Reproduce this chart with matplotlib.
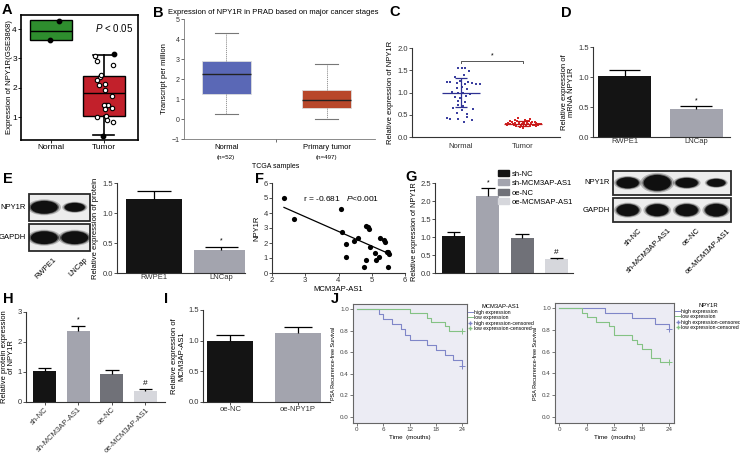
import numpy as np
import matplotlib
matplotlib.use("Agg")
import matplotlib.pyplot as plt
from matplotlib.patches import Rectangle, Ellipse
from matplotlib.lines import Line2D

plt.rcParams['font.family'] = ['Liberation Sans', 'DejaVu Sans']
plt.rcParams['mathtext.fontset'] = 'custom'
plt.rcParams['mathtext.it'] = 'Liberation Sans:italic'
plt.rcParams['mathtext.rm'] = 'Liberation Sans'

#Data
# A
a_groups = ["Normal", "Tumor"]
a_normal_dx = [0.15, -0.03]
a_normal_y = [4.27, 3.64]
a_tumor_dx = [-0.17, -0.14, 0.165, -0.08, -0.06, -0.14, -0.10, 0.02, 0.03, 0.15,
              0.04, 0.08, 0.00, 0.15, 0.02, -0.13, 0.04, 0.05, 0.18]
a_tumor_y = [3.08, 2.91, 2.76, 2.37, 2.42, 2.26, 2.10, 2.14, 1.94, 1.71,
             1.42, 1.40, 1.40, 1.31, 1.26, 1.02, 1.05, 0.91, 0.85]
a_tumor_fill_dx = [0.20, -0.01]
a_tumor_fill_y = [3.14, 0.37]
a_box = [dict(q1=3.62, med=3.95, q3=4.30, whislo=3.62, whishi=4.30),
         dict(q1=1.05, med=1.83, q3=2.40, whislo=0.40, whishi=3.10)]

# B
b_groups = ["Normal", "Primary tumor"]
b_n = ["(n=52)", "(n=497)"]
b_box = [dict(q1=1.25, med=2.25, q3=2.90, whislo=0.25, whishi=4.30),
         dict(q1=0.55, med=0.95, q3=1.45, whislo=0.00, whishi=2.75)]

# C
c_groups = ["Normal", "Tumor"]
c_normal_dx = [-0.05, 0.02, 0.07, 0.13, -0.22, -0.17, -0.06, -0.01, 0.06, 0.12, 0.18, 0.24, 0.31,
               -0.07, 0.01, 0.10, -0.14, -0.04, 0.04, 0.15, -0.09, -0.01, 0.09, -0.04, 0.07,
               -0.05, 0.03, 0.02, -0.07, 0.10, -0.23, -0.17, -0.04, 0.10, 0.18, 0.05,
               -0.10, 0.05, 0.20, -0.12]
c_normal_y = [1.54, 1.55, 1.54, 1.48, 1.24, 1.24, 1.22, 1.26, 1.20, 1.23, 1.22, 1.20, 1.19,
              1.10, 1.12, 1.08, 1.02, 0.98, 1.00, 0.97, 0.90, 0.88, 0.92, 0.80, 0.78,
              0.72, 0.70, 0.60, 0.55, 0.52, 0.42, 0.41, 0.40, 0.44, 0.39, 0.33,
              1.35, 1.40, 0.62, 0.65]
c_tumor_dx = [-0.27, -0.24, -0.21, -0.18, -0.15, -0.12, -0.09, -0.06, -0.03, 0.00,
              0.03, 0.06, 0.09, 0.12, 0.15, 0.18, 0.21, 0.24, 0.27, 0.29,
              -0.25, -0.20, -0.16, -0.11, -0.07, -0.02, 0.02, 0.07, 0.11, 0.16,
              0.20, 0.25, -0.13, -0.04, 0.05, 0.13, 0.22, -0.08, 0.10, 0.00]
c_tumor_y = [0.30, 0.31, 0.29, 0.33, 0.28, 0.32, 0.36, 0.30, 0.27, 0.34,
             0.38, 0.31, 0.29, 0.40, 0.33, 0.28, 0.32, 0.27, 0.30, 0.29,
             0.26, 0.35, 0.30, 0.25, 0.33, 0.29, 0.31, 0.36, 0.24, 0.27,
             0.34, 0.29, 0.38, 0.22, 0.26, 0.31, 0.25, 0.42, 0.35, 0.20]
c_mean = [1.00, 0.30]
c_sd = [0.33, 0.05]

# D
d_groups = ["RWPE1", "LNCap"]
d_vals = [1.01, 0.46]
d_err = [0.11, 0.05]

# E
e_groups = ["RWPE1", "LNCap"]
e_vals = [1.23, 0.39]
e_err = [0.13, 0.05]
e_blot_rows = ["NPY1R", "GAPDH"]
e_band_w = [[0.88, 0.66], [0.88, 0.88]]
e_band_h = [[0.42, 0.29], [0.42, 0.42]]

# F
f_x = [2.36, 2.66, 4.07, 4.11, 4.24, 4.24, 4.46, 4.59, 4.84, 4.89, 4.92, 4.96, 4.76,
       4.84, 5.09, 5.12, 5.23, 5.25, 5.37, 5.40, 5.45, 5.50, 5.53, 5.49]
f_y = [4.97, 3.60, 4.24, 2.76, 1.92, 1.04, 2.16, 2.34, 3.11, 3.05, 2.91, 1.72, 0.42,
       0.86, 1.32, 0.88, 1.06, 2.36, 2.23, 2.10, 1.43, 1.39, 1.28, 0.40]

# G
g_groups = ["sh-NC", "sh-MCM3AP-AS1", "oe-NC", "oe-MCMSAP-AS1"]
g_vals = [1.03, 2.14, 0.97, 0.39]
g_err = [0.11, 0.22, 0.11, 0.04]
g_marks = ["", "*", "", "#"]
g_blot_lanes = ["sh-NC", "sh-MCM3AP-AS1", "oe-NC", "oe-MCM3AP-AS1"]
g_blot_rows = ["NPY1R", "GAPDH"]
g_band_w = [[0.75, 0.92, 0.75, 0.62], [0.75, 0.75, 0.75, 0.75]]
g_band_h = [[0.40, 0.58, 0.36, 0.29], [0.44, 0.44, 0.44, 0.46]]

# H
h_groups = ["sh-NC", "sh-MCM3AP-AS1", "oe-NC", "oe-MCM3AP-AS1"]
h_vals = [1.02, 2.37, 0.95, 0.37]
h_err = [0.11, 0.18, 0.11, 0.06]
h_marks = ["", "*", "", "#"]

# I
i_groups = ["oe-NC", "oe-NPY1P"]
i_vals = [0.99, 1.12]
i_err = [0.10, 0.10]

# J
j1_high_t = [5, 6, 8, 10, 11, 12, 16, 18, 20, 22, 24]
j1_high_s = [0.952, 0.905, 0.857, 0.810, 0.762, 0.714, 0.667, 0.619, 0.571, 0.524, 0.476]
j1_low_t = [12, 16, 17, 20, 21]
j1_low_s = [0.96, 0.92, 0.88, 0.84, 0.80]
j2_high_t = [10, 16, 21, 24]
j2_high_s = [0.952, 0.905, 0.857, 0.810]
j2_low_t = [5, 6, 8, 11, 12, 16, 17, 18, 20, 22]
j2_low_s = [0.958, 0.917, 0.875, 0.833, 0.750, 0.708, 0.667, 0.625, 0.542, 0.500]
j_legend = ["high expression", "low expression", "high expression-censored", "low expression-censored"]

BLACK = "#141414"
GRAY = "#a3a4ae"
DGRAY = "#707178"
LGRAY = "#d6d7dc"

W, H = 740, 455
fig = plt.figure(figsize=(W / 100, H / 100), dpi=100)


def px_axes(x0, y0, x1, y1):
    return fig.add_axes([x0 / W, 1 - y1 / H, (x1 - x0) / W, (y1 - y0) / H])


def prism(ax):
    for s in ["top", "right"]:
        ax.spines[s].set_visible(False)
    for s in ["left", "bottom"]:
        ax.spines[s].set_linewidth(0.8)
        ax.spines[s].set_color("#333333")
    ax.tick_params(direction="out", length=2, width=0.6, labelsize=5.5, pad=1, colors="#333333")


def bars(ax, vals, err, colors, width, marks=None):
    x = np.arange(len(vals))
    ax.bar(x, vals, width=width, color=colors, zorder=2)
    tops = np.array(vals) + np.array(err)
    ax.vlines(x, vals, tops, color="black", lw=0.9, zorder=3)
    ax.hlines(tops, x - width * 0.3, x + width * 0.3, color="black", lw=0.9, zorder=3)
    if marks:
        ymax = ax.get_ylim()[1]
        for xi, t, m in zip(x, tops, marks):
            if m:
                fs = 5 if m == "*" else 6
                ax.text(xi, t + ymax * 0.02, m, ha="center", va="bottom", fontsize=fs)


def blot(ax, rows, lanes_n, band_w, band_h):
    ax.set_xlim(-0.5, lanes_n - 0.5)
    ax.set_ylim(1.47, -0.47)
    ax.axis("off")
    for r in range(len(rows)):
        ax.add_patch(Rectangle((-0.5, r - 0.45), lanes_n, 0.9, facecolor="#ececec",
                               edgecolor="#2a2a2a", lw=1.3, clip_on=False))
        for l in range(lanes_n):
            for k, a in zip([1.25, 1.1, 1.0], [0.25, 0.5, 1.0]):
                ax.add_patch(Ellipse((l, r), band_w[r][l] * k, band_h[r][l] * k,
                                     facecolor="#101010", edgecolor="none", alpha=a))
        ax.text(-0.6, r, rows[r], ha="right", va="center", fontsize=5.5)


# ---------------- A
axA = px_axes(21, 15, 138, 140)
bA = axA.bxp(a_box, positions=[0, 1], widths=0.8, patch_artist=True, showfliers=False,
             capwidths=[0.0, 0.4],
             medianprops=dict(color="black", lw=1.0),
             whiskerprops=dict(color="black", lw=1.2),
             capprops=dict(color="black", lw=1.2),
             boxprops=dict(lw=1.0, edgecolor="black"))
for patch, c in zip(bA["boxes"], ["#2e8d2e", "#c2202b"]):
    patch.set_facecolor(c)
axA.scatter(np.array(a_normal_dx), a_normal_y, s=10, color="black", zorder=4)
axA.scatter(1 + np.array(a_tumor_dx), a_tumor_y, s=10, facecolor="white", edgecolor="black", lw=0.8, zorder=4)
axA.scatter(1 + np.array(a_tumor_fill_dx), a_tumor_fill_y, s=10, color="black", zorder=4)
axA.set_xlim(-0.58, 1.65)
axA.set_ylim(0.22, 4.48)
axA.set_yticks([1, 2, 3, 4])
axA.set_xticks([0, 1])
axA.set_xticklabels(a_groups)
axA.tick_params(labelsize=6, length=2, width=0.6, pad=1)
for s in axA.spines.values():
    s.set_linewidth(1.2)
axA.set_ylabel("Expression of NPY1R(GSE3868)", fontsize=5.6, labelpad=2)
axA.yaxis.set_label_coords(-0.07, 0.5)
axA.text(0.96, 0.9, r"$\it{P}$ < 0.05", transform=axA.transAxes, ha="right", va="center", fontsize=7)

# ---------------- B
axB = px_axes(184, 19, 375, 139)
bB = axB.bxp(b_box, positions=[0, 1], widths=0.49, patch_artist=True, showfliers=False,
             capwidths=[0.23, 0.23],
             medianprops=dict(color="#222222", lw=1.0),
             whiskerprops=dict(color="#888888", lw=0.6, ls=(0, (1.5, 1))),
             capprops=dict(color="#777777", lw=0.8),
             boxprops=dict(lw=0.6))
for patch, c in zip(bB["boxes"], ["#5a68b6", "#b8472a"]):
    patch.set_facecolor(c)
    patch.set_edgecolor("#dddddd")
axB.set_xlim(-0.42, 1.48)
axB.set_ylim(-1, 5)
axB.set_yticks(range(-1, 6))
axB.set_xticks([0.5])
axB.set_xticklabels([""])
for s in ["top", "right"]:
    axB.spines[s].set_visible(False)
for s in ["left", "bottom"]:
    axB.spines[s].set_color("#777777")
    axB.spines[s].set_linewidth(0.6)
axB.tick_params(labelsize=5, length=2, width=0.5, pad=1, colors="#333333")
for i, (g, n) in enumerate(zip(b_groups, b_n)):
    axB.text(i, -0.045, g, transform=axB.get_xaxis_transform(), ha="center", va="top", fontsize=5.5)
    axB.text(i, -0.13, n, transform=axB.get_xaxis_transform(), ha="center", va="top", fontsize=4.5)
axB.text(0.48, -0.2, "TCGA samples", transform=axB.transAxes, ha="center", va="top", fontsize=5)
axB.set_ylabel("Transcript per million", fontsize=5.5, labelpad=3)
fig.text(273 / W, 1 - 13 / H, "Expression of NPY1R in PRAD based on major cancer stages",
         ha="center", va="center", fontsize=5.5)

# ---------------- C
axC = px_axes(412, 48, 560, 137)
prism(axC)
axC.scatter(np.array(c_normal_dx), c_normal_y, marker="s", s=3.5, color="#3c40a0", zorder=3, lw=0)
axC.scatter(1 + np.array(c_tumor_dx), c_tumor_y, marker="s", s=3.5, color="#d42424", zorder=3, lw=0)
for i, (m, sd, c) in enumerate(zip(c_mean, c_sd, ["#2e3192", "#c01a1a"])):
    axC.hlines(m, i - 0.31, i + 0.31, color=c, lw=0.9, zorder=4)
    axC.vlines(i, m - sd, m + sd, color=c, lw=0.9, zorder=4)
    axC.hlines([m - sd, m + sd], i - 0.1, i + 0.1, color=c, lw=0.9, zorder=4)
axC.plot([0, 0, 1, 1], [1.66, 1.7, 1.7, 1.66], color="#555555", lw=0.7)
axC.text(0.5, 1.74, "*", ha="center", va="bottom", fontsize=5)
axC.set_xlim(-0.79, 1.6)
axC.set_ylim(0, 2.0)
axC.set_yticks([0, 0.5, 1.0, 1.5, 2.0])
axC.set_yticklabels(["0.0", "0.5", "1.0", "1.5", "2.0"])
axC.set_xticks([0, 1])
axC.set_xticklabels(c_groups)
axC.tick_params(axis="x", length=0, pad=4)
axC.set_ylabel("Relative expression of NPY1R", fontsize=5.5, labelpad=2)

# ---------------- D
axD = px_axes(593, 47, 730, 137)
prism(axD)
axD.set_ylim(0, 1.5)
axD.set_xlim(-0.44, 1.47)
bars(axD, d_vals, d_err, [BLACK, GRAY], 0.74, ["", "*"])
axD.set_yticks([0, 0.5, 1.0, 1.5])
axD.set_yticklabels(["0.0", "0.5", "1.0", "1.5"])
axD.set_xticks([0, 1])
axD.set_xticklabels(d_groups)
axD.tick_params(axis="x", length=0, pad=1)
axD.set_ylabel("Relative expression of\nmRNA NPY1R", fontsize=5.5, labelpad=2, linespacing=1.0)

# ---------------- E
axEb = px_axes(29, 193, 90, 252)
blot(axEb, e_blot_rows, 2, e_band_w, e_band_h)
for l, lab in enumerate(e_groups):
    axEb.text(l + 0.3, 1.6, lab, rotation=45, ha="right", va="top", fontsize=5.5, rotation_mode="anchor")

axE = px_axes(117, 183, 245, 273)
prism(axE)
axE.set_ylim(0, 1.5)
axE.set_xlim(-0.55, 1.35)
bars(axE, e_vals, e_err, [BLACK, GRAY], 0.82, ["", "*"])
axE.set_yticks([0, 0.5, 1.0, 1.5])
axE.set_yticklabels(["0.0", "0.5", "1.0", "1.5"])
axE.set_xticks([0, 1])
axE.set_xticklabels(e_groups)
axE.tick_params(axis="x", length=0, pad=1)
axE.set_ylabel("Relative expression of protein", fontsize=5.5, labelpad=2)

# ---------------- F
axF = px_axes(272, 183, 405, 273)
prism(axF)
axF.scatter(f_x, f_y, s=14, color="black", zorder=3, lw=0)
k, b = np.polyfit(f_x, f_y, 1)
xx = np.array([min(f_x), max(f_x)])
axF.plot(xx, k * xx + b, color="black", lw=0.9)
axF.set_xlim(2, 6)
axF.set_ylim(0, 6)
axF.set_xticks([2, 3, 4, 5, 6])
axF.set_yticks(range(0, 7))
axF.set_xlabel("MCM3AP-AS1", fontsize=5.5, labelpad=1)
axF.set_ylabel("NPY1R", fontsize=5.5, labelpad=2)
axF.text(0.52, 0.83, r"r = -0.681   $\it{P}$<0.001", transform=axF.transAxes, ha="center",
         va="center", fontsize=6)

# ---------------- G
axG = px_axes(435, 183, 573, 273)
prism(axG)
axG.set_ylim(0, 2.5)
axG.set_xlim(-0.54, 3.48)
bars(axG, g_vals, g_err, [BLACK, GRAY, DGRAY, LGRAY], 0.67, g_marks)
axG.set_yticks([0, 0.5, 1.0, 1.5, 2.0, 2.5])
axG.set_yticklabels(["0.0", "0.5", "1.0", "1.5", "2.0", "2.5"])
axG.set_xticks([])
axG.set_ylabel("Relative expression of NPY1R", fontsize=5.3, labelpad=2)
axG.yaxis.set_label_coords(-0.12, 0.46)
handles = [Rectangle((0, 0), 1, 1, color=c) for c in [BLACK, GRAY, DGRAY, LGRAY]]
axG.legend(handles, g_groups, loc="upper left", bbox_to_anchor=(498 / W, 1 - 170 / H),
           bbox_transform=fig.transFigure, fontsize=5.5, frameon=False, handlelength=1.4,
           handleheight=0.8, labelspacing=0.25, handletextpad=0.4, borderpad=0, borderaxespad=0)

axGb = px_axes(613, 170, 731, 223)
blot(axGb, g_blot_rows, 4, g_band_w, g_band_h)
for l, lab in enumerate(g_blot_lanes):
    axGb.text(l + 0.35, 1.62, lab, rotation=45, ha="right", va="top", fontsize=5.5, rotation_mode="anchor")

# ---------------- H
axH = px_axes(26, 312, 165, 402)
prism(axH)
axH.set_ylim(0, 3)
axH.set_xlim(-0.55, 3.58)
bars(axH, h_vals, h_err, [BLACK, GRAY, DGRAY, LGRAY], 0.68, h_marks)
axH.set_yticks([0, 1, 2, 3])
axH.set_xticks(range(4))
axH.set_xticklabels(h_groups, rotation=45, ha="right", rotation_mode="anchor")
axH.set_ylabel("Relative protein expression\nof NPY1R", fontsize=5.5, labelpad=2, linespacing=1.0)

# ---------------- I
axI = px_axes(203, 310, 330, 402)
prism(axI)
axI.set_ylim(0, 1.5)
axI.set_xlim(-0.4, 1.47)
bars(axI, i_vals, i_err, [BLACK, GRAY], 0.68)
axI.set_yticks([0, 0.5, 1.0, 1.5])
axI.set_yticklabels(["0.0", "0.5", "1.0", "1.5"])
axI.set_xticks([0, 1])
axI.set_xticklabels(i_groups)
axI.tick_params(axis="x", length=2, pad=1)
axI.set_ylabel("Relative expression of\nMCM3AP-AS1", fontsize=5.5, labelpad=2, linespacing=1.0)

# ---------------- J
BLUE = "#7f86c8"
GREEN = "#84c284"


def km(ax, ht, hs, lt, ls, title):
    ax.set_facecolor("#ececf4")
    for t, s, c in [(ht, hs, BLUE), (lt, ls, GREEN)]:
        tt = [0] + list(t)
        ss = [1.0] + list(s)
        if tt[-1] < 24:
            tt.append(24)
            ss.append(ss[-1])
        ax.step(tt, ss, where="post", color=c, lw=0.8)
        ax.plot([24], [ss[-1]], marker="+", color=c, ms=4, mew=0.7)
    ax.set_xlim(-0.9, 25.1)
    ax.set_ylim(-0.056, 1.046)
    ax.set_xticks([0, 6, 12, 18, 24])
    ax.set_yticks([0, 0.2, 0.4, 0.6, 0.8, 1.0])
    ax.set_yticklabels(["0.0", "0.2", "0.4", "0.6", "0.8", "1.0"])
    ax.tick_params(labelsize=4.5, length=2, width=0.5, pad=1, colors="#444444")
    for s in ax.spines.values():
        s.set_color("#666666")
        s.set_linewidth(0.8)
    ax.set_xlabel("Time  (mouths)", fontsize=4.5, labelpad=2)
    ax.set_ylabel("PSA Recurrence-free Survival", fontsize=4, labelpad=3)
    hd = [Line2D([], [], color=BLUE, lw=0.7), Line2D([], [], color=GREEN, lw=0.7),
          Line2D([], [], color=BLUE, marker="+", ls="none", ms=3.5),
          Line2D([], [], color=GREEN, marker="+", ls="none", ms=3.5)]
    leg = ax.legend(hd, j_legend, title=title, loc="upper left", bbox_to_anchor=(1.01, 1.0),
                    fontsize=3.7, title_fontsize=4.2, frameon=False, handlelength=0.9,
                    labelspacing=0.1, handletextpad=0.2, borderpad=0, borderaxespad=0)
    leg._legend_box.align = "center"


axJ1 = px_axes(353, 304, 467, 423)
km(axJ1, j1_high_t, j1_high_s, j1_low_t, j1_low_s, "MCM3AP-AS1")
axJ2 = px_axes(555, 303, 674, 423)
km(axJ2, j2_high_t, j2_high_s, j2_low_t, j2_low_s, "NPY1R")

# panel letters
for lab, x, y in [("A", 7, 10), ("B", 158, 13), ("C", 395, 12), ("D", 566, 13),
                  ("E", 8, 179), ("F", 260, 179), ("G", 411, 177),
                  ("H", 8, 299), ("I", 166, 299), ("J", 335, 299)]:
    fig.text(x / W, 1 - y / H, lab, fontsize=10.5, fontweight="bold", ha="center", va="center")

fig.savefig("out.png", dpi=100)
